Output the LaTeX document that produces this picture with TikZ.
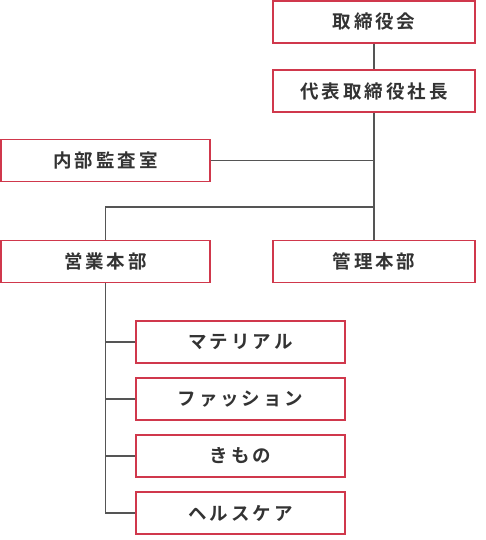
\documentclass[tikz,border=0pt]{standalone}
\usepackage{fontspec}
\newfontfamily\jpfont[LetterSpace=16, BoldFont={Noto Sans CJK JP Bold}]{Noto Sans CJK JP}
\definecolor{boxred}{RGB}{208,56,76}
\definecolor{textgray}{RGB}{51,51,51}
\definecolor{linegray}{RGB}{85,85,85}
\begin{document}
\begin{tikzpicture}[
    x=1pt, y=-1pt,
    box_style/.style={draw=boxred, line width=1.3pt, fill=white, minimum height=42pt,
        inner sep=0pt, text=textgray, font=\jpfont\bfseries\fontsize{18.5}{20}\selectfont},
    wide_box/.style={box_style, minimum width=209pt},
    right_box/.style={box_style, minimum width=202pt},
    line_style/.style={draw=linegray, line width=1.2pt}
]
\useasboundingbox (0,0) rectangle (485,540);
% Direction
\node[right_box] (torishimari) at (374,22) {取締役会};
\node[right_box] (daihyo) at (374,91) {代表取締役社長};
\node[wide_box] (kansa) at (105.5,160.5) {内部監査室};
% Honbu
\node[wide_box] (eigyo) at (105.5,261.5) {営業本部};
\node[right_box] (kanri) at (374,261.5) {管理本部};
% Eigyo : jigyobu
\node[wide_box] (material) at (240.5,342) {マテリアル};
\node[wide_box] (fashion) at (240.5,399) {ファッション};
\node[wide_box] (kimono) at (240.5,456) {きもの};
\node[wide_box] (herusu) at (240.5,513) {ヘルスケア};
\coordinate (split) at (374,207);
\draw[line_style] (torishimari) -- (daihyo);
\draw[line_style] (daihyo.south) -- (kanri.north);
\draw[line_style] (kansa.east) -- (kansa.east -| daihyo.south);
\draw[line_style] (split) -| (eigyo.north);
\draw[line_style] (eigyo.south) |- (herusu.west);
\foreach \n in {material, fashion, kimono} {
    \draw[line_style] (eigyo.south |- \n.west) -- (\n.west);
}
\end{tikzpicture}
\end{document}
